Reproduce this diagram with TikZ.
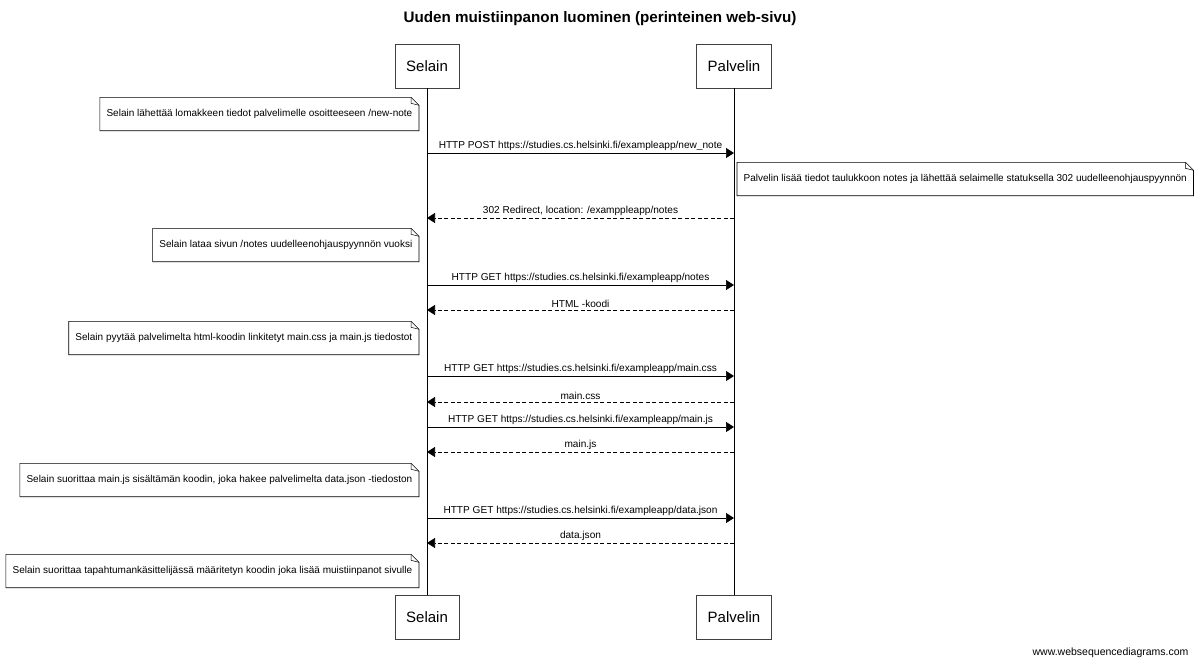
\documentclass[tikz,border=0pt]{standalone}
\usepackage{fontspec}
\setmainfont{Liberation Sans}
\usetikzlibrary{arrows.meta}
\begin{document}
\begin{tikzpicture}[x=1pt,y=-1pt,
  actor/.style={draw=black!75, line width=0.7pt, fill=white, inner xsep=11pt, inner ysep=0pt, minimum height=44pt, font=\fontsize{15}{17}\selectfont},
  notebox/.style={inner xsep=6.5pt, inner ysep=0pt, minimum height=33pt, font=\fontsize{10}{12}\selectfont},
  msg/.style={line width=0.7pt, -{Triangle[length=8pt,width=10pt]}},
  ret/.style={msg, dash pattern=on 4pt off 2.5pt},
  lbl/.style={above, inner sep=2pt, font=\fontsize{10.1}{12}\selectfont},
  life/.style={line width=0.8pt}]
\useasboundingbox (0,0) rectangle (1200,664);

\node[font=\bfseries\fontsize{15.2}{17}\selectfont] (title) at (600,19) {Uuden muistiinpanon luominen (perinteinen web-sivu)};

\node[actor] (stop) at (427,66) {Selain};
\node[actor] (ptop) at (734,66) {Palvelin};
\node[actor] (sbot) at (427,617) {Selain};
\node[actor] (pbot) at (734,617) {Palvelin};

\draw[life] (stop.south) -- (sbot.north);
\draw[life] (ptop.south) -- (pbot.north);

% lifeline points
\foreach \i/\y in {1/153,2/218,3/285,4/310,5/376,6/402,7/427,8/452,9/518,10/543}{
  \coordinate (s\i) at (427,\y);
  \coordinate (p\i) at (734,\y);
}

% notes
\node[notebox, anchor=east] (n1) at (419,114) {Selain lähettää lomakkeen tiedot palvelimelle osoitteeseen /new-note};
\node[notebox, anchor=west] (n2) at (737,179) {Palvelin lisää tiedot taulukkoon notes ja lähettää selaimelle statuksella 302 uudelleenohjauspyynnön};
\node[notebox, anchor=east] (n3) at (419,245) {Selain lataa sivun /notes uudelleenohjauspyynnön vuoksi};
\node[notebox, anchor=east] (n4) at (419,338) {Selain pyytää palvelimelta html-koodin linkitetyt main.css ja main.js tiedostot};
\node[notebox, anchor=east] (n5) at (419,480) {Selain suorittaa main.js sisältämän koodin, joka hakee palvelimelta data.json -tiedoston};
\node[notebox, anchor=east] (n6) at (419,571) {Selain suorittaa tapahtumankäsittelijässä määritetyn koodin joka lisää muistiinpanot sivulle};
\foreach \n in {n1,n2,n3,n4,n5,n6}{
  \draw[line width=0.6pt] (\n.south west) -- (\n.south east) -- ([yshift=-8pt]\n.north east) -- ([xshift=-8pt]\n.north east) -- (\n.north west) -- cycle;
  \draw[line width=0.5pt] ([xshift=-8pt]\n.north east) -- ([xshift=-8pt,yshift=-6pt]\n.north east) -- ([yshift=-8pt]\n.north east);
}

% messages
\draw[msg] (s1) -- node[lbl] {HTTP POST https://studies.cs.helsinki.fi/exampleapp/new\_note} (p1);
\draw[ret] (p2) -- node[lbl] {302 Redirect, location: /examppleapp/notes} (s2);
\draw[msg] (s3) -- node[lbl] {HTTP GET https://studies.cs.helsinki.fi/exampleapp/notes} (p3);
\draw[ret] (p4) -- node[lbl] {HTML -koodi} (s4);
\draw[msg] (s5) -- node[lbl] {HTTP GET https://studies.cs.helsinki.fi/exampleapp/main.css} (p5);
\draw[ret] (p6) -- node[lbl] {main.css} (s6);
\draw[msg] (s7) -- node[lbl] {HTTP GET https://studies.cs.helsinki.fi/exampleapp/main.js} (p7);
\draw[ret] (p8) -- node[lbl] {main.js} (s8);
\draw[msg] (s9) -- node[lbl] {HTTP GET https://studies.cs.helsinki.fi/exampleapp/data.json} (p9);
\draw[ret] (p10) -- node[lbl] {data.json} (s10);

\node[anchor=east, font=\fontsize{10.5}{12}\selectfont] (wsd) at (1192,653) {www.websequencediagrams.com};
\end{tikzpicture}
\end{document}
